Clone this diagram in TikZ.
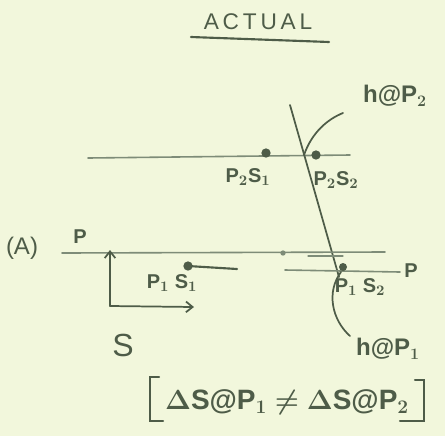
\documentclass[tikz,border=0pt]{standalone}
\usepackage{fontspec}
\setmainfont{Liberation Sans}
\usetikzlibrary{arrows.meta}
\definecolor{paper}{HTML}{F2F7DC}
\definecolor{ink}{HTML}{4E5C48}
\definecolor{inklight}{HTML}{7E8C78}
\begin{document}
\begin{tikzpicture}[x=0.75pt,y=-0.75pt,
  pen/.style={draw=ink,line width=1.6pt,line cap=round},
  thinpen/.style={draw=inklight,line width=1.2pt,line cap=round},
  lbl/.style={text=ink,inner sep=0pt,font=\bfseries\mathversion{bold}\fontsize{15}{17}\selectfont}]
\fill[paper] (0,0) rectangle (445,436);
\useasboundingbox (0,0) rectangle (445,436);
% title
\node[lbl,font=\fontsize{17}{19}\selectfont] (title) at (258,22) {A\,C\,T\,U\,A\,L};
\coordinate (ul1) at (191,37);
\coordinate (ul2) at (329,42);
\draw[pen] (ul1) -- (ul2);
% upper line
\coordinate (U1) at (88,158);
\coordinate (U2) at (350,155);
\draw[thinpen] (U1) -- (U2);
\coordinate (d21) at (266,153);
\coordinate (d22) at (316,155);
\fill[ink] (d21) circle (3.5pt);
\fill[ink] (d22) circle (3.5pt);
\node[lbl] (p2s1) at (248,177) {P$_2$S$_1$};
\node[lbl] (p2s2) at (336,180) {P$_2$S$_2$};
% steep line
\coordinate (h1) at (290,105);
\coordinate (h2) at (339,277);
\draw[pen,line width=1.3pt] (h1) -- (h2);
\coordinate (x2) at (304,155);
\coordinate (hp2end) at (343,113);
\draw[pen,line width=1.3pt] (x2) .. controls (312,132) and (328,119) .. (hp2end);
\node[lbl,font=\bfseries\mathversion{bold}\fontsize{18}{20}\selectfont] (hP2) at (395,96) {h@P$_2$};
% lower line
\node[lbl,font=\fontsize{18}{20}\selectfont] (A) at (22,248) {(A)};
\node[lbl] (Plab) at (80,237) {P};
\coordinate (L1) at (62,253);
\coordinate (L2) at (385,252);
\draw[thinpen] (L1) -- (L2);
\coordinate (sd) at (283,253);
\fill[inklight] (sd) circle (2pt);
\coordinate (dash1) at (308,256);
\coordinate (dash2) at (343,256);
\draw[thinpen,line width=0.8pt] (dash1) -- (dash2);
% partial lower lines
\coordinate (d11) at (188,266);
\coordinate (a2) at (237,269);
\draw[pen] (d11) -- (a2);
\fill[ink] (d11) circle (3.5pt);
\coordinate (b1) at (285,270);
\coordinate (b2) at (400,272);
\draw[thinpen] (b1) -- (b2);
\coordinate (d12) at (343,267);
\fill[ink] (d12) circle (3pt);
\node[lbl] (P2lab) at (411,271) {P};
\node[lbl] (p1s1) at (172,283) {P$_1$ S$_1$};
\node[lbl] (p1s2) at (360,287) {P$_1$ S$_2$};
% h@P1 curve
\coordinate (hc1) at (341,272);
\coordinate (hc2) at (350,336);
\draw[pen,line width=1.3pt] (hc1) .. controls (326,292) and (332,320) .. (hc2);
\node[lbl,font=\bfseries\mathversion{bold}\fontsize{18}{20}\selectfont] (hP1) at (388,349) {h@P$_1$};
% axes
\coordinate (O) at (110,306);
\coordinate (Oy) at (110,250);
\coordinate (Ox) at (194,307);
\draw[pen,line width=1.3pt,-{Straight Barb[length=5pt,width=8pt]}] (O) -- (Oy);
\draw[pen,line width=1.3pt,-{Straight Barb[length=5pt,width=8pt]}] (O) -- (Ox);
\node[lbl,font=\fontsize{24}{26}\selectfont] (S) at (123,345) {S};
% bottom
\node[lbl,font=\bfseries\mathversion{bold}\fontsize{21}{23}\selectfont] (eq) at (287,402) {$\Delta$S@P$_1$ $\neq$ $\Delta$S@P$_2$};
\coordinate (lb1) at (159,377);
\coordinate (lb2) at (150,377);
\coordinate (lb3) at (150,421);
\coordinate (lb4) at (163,421);
\draw[pen] (lb1) -- (lb2) -- (lb3) -- (lb4);
\coordinate (rb1) at (415,380);
\coordinate (rb2) at (424,380);
\coordinate (rb3) at (424,421);
\coordinate (rb4) at (400,421);
\draw[pen] (rb1) -- (rb2) -- (rb3) -- (rb4);
\end{tikzpicture}
\end{document}
